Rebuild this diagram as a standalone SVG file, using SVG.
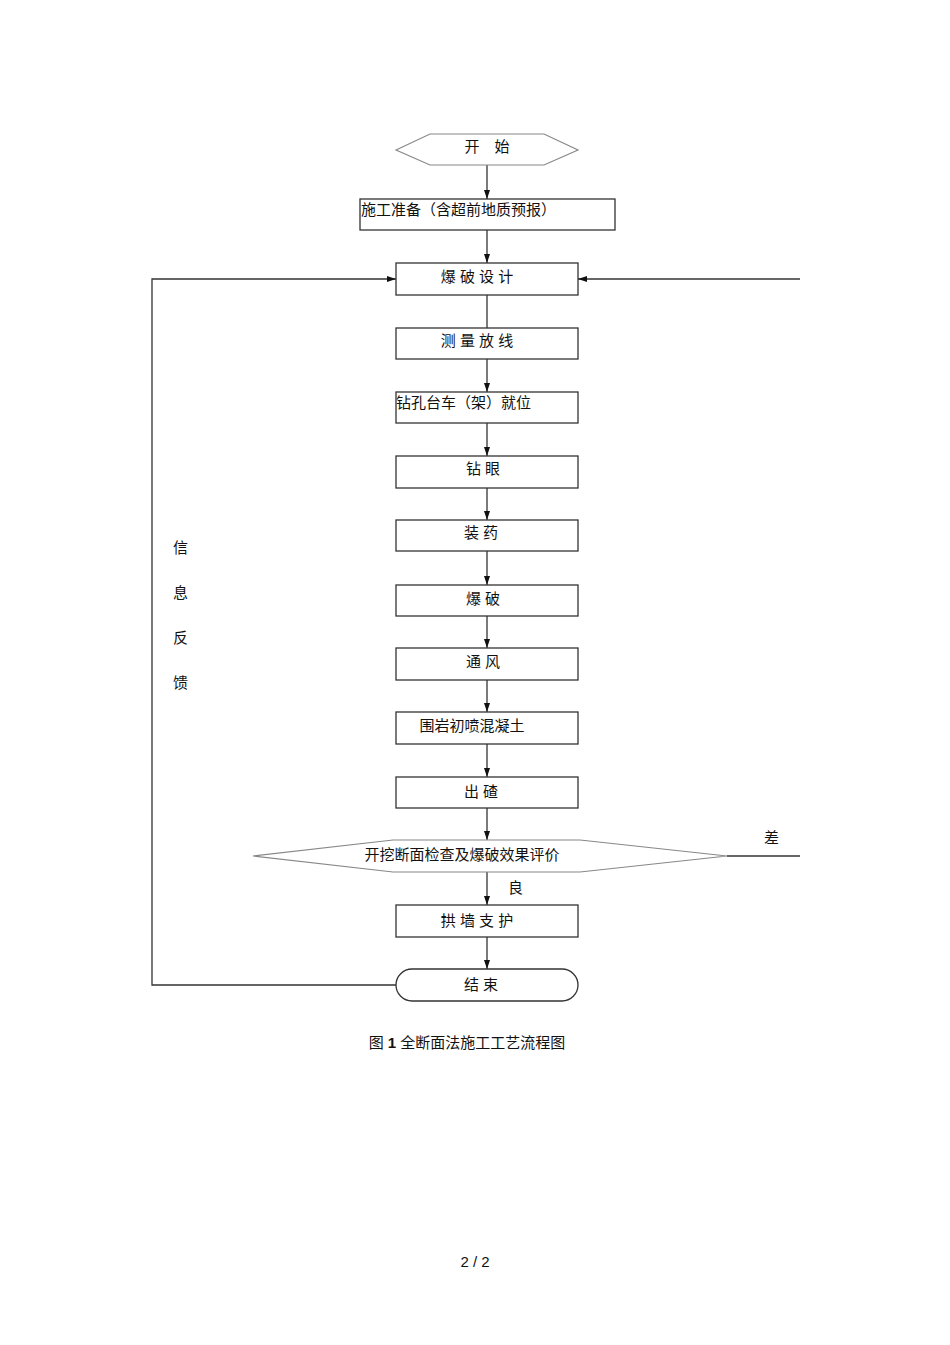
<svg xmlns="http://www.w3.org/2000/svg" width="950" height="1345" viewBox="0 0 950 1345">
<style>
.b{fill:#fff;stroke:#333;stroke-width:1.3}
.g{fill:#fff;stroke:#888;stroke-width:1.2}
.t{font-family:"Liberation Sans","Noto Sans CJK SC",sans-serif;font-size:15px;fill:#111}
.c{stroke:#333;stroke-width:1.3;fill:none}
</style>
<defs><marker id="a" markerWidth="10" markerHeight="10" refX="9" refY="4" orient="auto" markerUnits="userSpaceOnUse"><path d="M0,1 L9,4 L0,7 Z" fill="#111"/></marker></defs>
<rect width="950" height="1345" fill="#fff"/>
<g id="connectors">
<line class="c" x1="487" y1="165" x2="487" y2="199" marker-end="url(#a)"/>
<line class="c" x1="487" y1="230" x2="487" y2="263" marker-end="url(#a)"/>
<line class="c" x1="487" y1="295" x2="487" y2="328"/>
<line class="c" x1="487" y1="359" x2="487" y2="392" marker-end="url(#a)"/>
<line class="c" x1="487" y1="423" x2="487" y2="456" marker-end="url(#a)"/>
<line class="c" x1="487" y1="488" x2="487" y2="520" marker-end="url(#a)"/>
<line class="c" x1="487" y1="551" x2="487" y2="585" marker-end="url(#a)"/>
<line class="c" x1="487" y1="616" x2="487" y2="648" marker-end="url(#a)"/>
<line class="c" x1="487" y1="680" x2="487" y2="712" marker-end="url(#a)"/>
<line class="c" x1="487" y1="744" x2="487" y2="777" marker-end="url(#a)"/>
<line class="c" x1="487" y1="808" x2="487" y2="840" marker-end="url(#a)"/>
<line class="c" x1="487" y1="872" x2="487" y2="905" marker-end="url(#a)"/>
<line class="c" x1="487" y1="937" x2="487" y2="969" marker-end="url(#a)"/>
<polyline class="c" points="396,985 152,985 152,279 396,279" marker-end="url(#a)"/>
<line class="c" stroke="#666" x1="800" y1="279" x2="578" y2="279" marker-end="url(#a)"/>
<line class="c" stroke="#666" x1="727" y1="856" x2="800" y2="856"/>
</g>
<g id="n0"><polygon class="g" points="396,150 430,134 544,134 578,150 544,165 430,165"/><text class="t" x="487" y="152" text-anchor="middle">开　始</text></g>
<g id="n1"><rect class="b" x="360" y="199" width="255" height="31"/><text class="t" x="361" y="215">施工准备（含超前地质预报）</text></g>
<g id="n2"><rect class="b" x="396" y="263" width="182" height="32"/><text class="t" x="477" y="282" text-anchor="middle">爆 破 设 计</text></g>
<g id="n3"><rect class="b" x="396" y="328" width="182" height="31"/><text class="t" x="477" y="346" text-anchor="middle">测 量 放 线</text></g>
<g id="n4"><rect class="b" x="396" y="392" width="182" height="31"/><text class="t" x="396" y="408">钻孔台车（架）就位</text></g>
<g id="n5"><rect class="b" x="396" y="456" width="182" height="32"/><text class="t" x="483" y="474" text-anchor="middle">钻 眼</text></g>
<g id="n6"><rect class="b" x="396" y="520" width="182" height="31"/><text class="t" x="481" y="538" text-anchor="middle">装 药</text></g>
<g id="n7"><rect class="b" x="396" y="585" width="182" height="31"/><text class="t" x="483" y="604" text-anchor="middle">爆 破</text></g>
<g id="n8"><rect class="b" x="396" y="648" width="182" height="32"/><text class="t" x="483" y="667" text-anchor="middle">通 风</text></g>
<g id="n9"><rect class="b" x="396" y="712" width="182" height="32"/><text class="t" x="472" y="731" text-anchor="middle">围岩初喷混凝土</text></g>
<g id="n10"><rect class="b" x="396" y="777" width="182" height="31"/><text class="t" x="481" y="797" text-anchor="middle">出 碴</text></g>
<g id="n11"><polygon class="g" points="253,856 393,840 580,840 727,856 580,872 393,872"/><text class="t" x="462" y="860" text-anchor="middle">开挖断面检查及爆破效果评价</text></g>
<text class="t" x="508" y="893">良</text>
<text class="t" x="764" y="843">差</text>
<g id="n12"><rect class="b" x="396" y="905" width="182" height="32"/><text class="t" x="477" y="926" text-anchor="middle">拱 墙 支 护</text></g>
<g id="n13"><rect class="b" x="396" y="969" width="182" height="32" rx="16"/><text class="t" x="481" y="990" text-anchor="middle">结 束</text></g>
<text class="t" x="173" y="553">信</text>
<text class="t" x="173" y="598">息</text>
<text class="t" x="173" y="643">反</text>
<text class="t" x="173" y="688">馈</text>
<text class="t" x="467" y="1048" text-anchor="middle" font-size="19">图 <tspan font-weight="bold">1</tspan>  全断面法施工工艺流程图</text>
<text class="t" x="475" y="1267" text-anchor="middle" font-size="14">2 / 2</text>
</svg>
